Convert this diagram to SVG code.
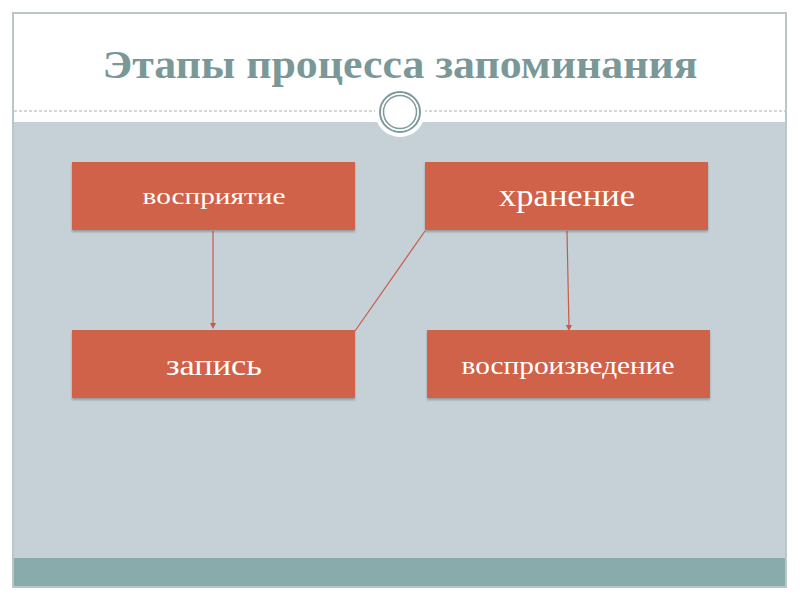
<svg xmlns="http://www.w3.org/2000/svg" width="800" height="600" viewBox="0 0 800 600">
<defs>
<style>
.box{fill:#d0624a;}
.lbl{fill:#ffffff;font-family:"Liberation Serif","DejaVu Serif",serif;text-anchor:middle;}
.conn{stroke:#c85a48;stroke-width:1.2;fill:none;}
</style>
<marker id="ah" markerWidth="6" markerHeight="6" refX="3" refY="3" orient="auto" markerUnits="userSpaceOnUse">
<path d="M0,0 L6,3 L0,6 z" fill="#c85a48"/>
</marker>
<filter id="sh" x="-5%" y="-10%" width="110%" height="130%">
<feDropShadow dx="0" dy="2" stdDeviation="1.2" flood-color="#000" flood-opacity="0.25"/>
</filter>
</defs>
<rect x="0" y="0" width="800" height="600" fill="#ffffff"/>
<g id="frame">
<rect x="13" y="13" width="773" height="574" fill="#ffffff" stroke="#b8c8c8" stroke-width="2"/>
<rect x="14" y="122" width="771" height="436" fill="#c5d1d7"/>
<rect x="14" y="558" width="771" height="28" fill="#8aabab"/>
<line x1="14" y1="111" x2="785" y2="111" stroke="#a0b0b0" stroke-width="1" stroke-dasharray="3,2"/>
<circle cx="400" cy="112" r="25" fill="#ffffff"/>
<circle cx="400" cy="112" r="20" fill="#ffffff" stroke="#7f9a9a" stroke-width="2"/>
<circle cx="400" cy="112" r="16.5" fill="none" stroke="#7f9a9a" stroke-width="1.5"/>
</g>
<text id="title" x="400" y="78" font-family="Liberation Serif,'DejaVu Serif',serif" font-weight="bold" font-size="40" fill="#7a9898" text-anchor="middle" textLength="595" lengthAdjust="spacingAndGlyphs">Этапы процесса запоминания</text>
<g id="connectors">
<line class="conn" x1="213" y1="231" x2="213" y2="326" marker-end="url(#ah)"/>
<line class="conn" x1="567" y1="231" x2="569" y2="328" marker-end="url(#ah)"/>
<line class="conn" x1="425" y1="231" x2="355" y2="331"/>
</g>
<g id="n1"><rect class="box" x="72" y="162" width="283" height="68" filter="url(#sh)"/><text class="lbl" x="214" y="204" font-size="24" textLength="143" lengthAdjust="spacingAndGlyphs">восприятие</text></g>
<g id="n2"><rect class="box" x="425" y="162" width="283" height="68" filter="url(#sh)"/><text class="lbl" x="567" y="206" font-size="32" textLength="136" lengthAdjust="spacingAndGlyphs">хранение</text></g>
<g id="n3"><rect class="box" x="72" y="330" width="283" height="68" filter="url(#sh)"/><text class="lbl" x="214" y="375" font-size="30" textLength="96" lengthAdjust="spacingAndGlyphs">запись</text></g>
<g id="n4"><rect class="box" x="427" y="330" width="283" height="68" filter="url(#sh)"/><text class="lbl" x="568" y="374" font-size="25" textLength="213" lengthAdjust="spacingAndGlyphs">воспроизведение</text></g>
</svg>
